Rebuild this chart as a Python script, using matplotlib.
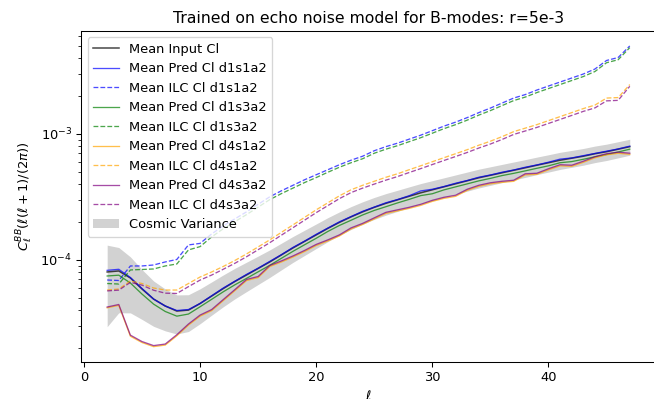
import numpy as np
import matplotlib
matplotlib.use("Agg")
import matplotlib.pyplot as plt

ell = np.arange(2, 48)

# mean spectra, in units of 1e-4
cl_input = np.array([0.803, 0.818, 0.719, 0.588, 0.489, 0.431, 0.393, 0.400, 0.451, 0.517,
                     0.593, 0.675, 0.760, 0.856, 0.964, 1.096, 1.246, 1.404, 1.581, 1.781,
                     1.988, 2.198, 2.409, 2.616, 2.815, 3.001, 3.201, 3.412, 3.605, 3.808,
                     4.023, 4.250, 4.49, 4.70, 4.92, 5.15, 5.39, 5.65, 5.91, 6.19,
                     6.42, 6.66, 6.97, 7.23, 7.57, 7.93]) * 1e-4

pred_d1s1a2 = np.array([0.827, 0.843, 0.726, 0.594, 0.489, 0.431, 0.397, 0.404, 0.451, 0.520,
                        0.599, 0.678, 0.768, 0.860, 0.974, 1.101, 1.258, 1.411, 1.597, 1.790,
                        2.008, 2.209, 2.433, 2.629, 2.843, 3.016, 3.233, 3.531, 3.641, 3.827,
                        4.063, 4.271, 4.535, 4.724, 4.969, 5.176, 5.444, 5.678, 5.969, 6.314,
                        6.452, 6.727, 7.005, 7.302, 7.608, 8.009]) * 1e-4

ilc_d1s1a2 = np.array([0.693, 0.687, 0.896, 0.896, 0.912, 0.964, 1.009, 1.316, 1.353, 1.610,
                       1.864, 2.120, 2.409, 2.764, 3.171, 3.538, 3.914, 4.33, 4.745, 5.20,
                       5.70, 6.19, 6.66, 7.36, 7.93, 8.45, 9.09, 9.78, 10.62, 11.54,
                       12.41, 13.48, 14.77, 16.05, 17.58, 19.27, 20.54, 22.31, 24.01, 25.83,
                       27.80, 29.91, 32.77, 38.30, 40.45, 49.95]) * 1e-4

pred_d1s3a2 = np.array([0.746, 0.757, 0.656, 0.536, 0.446, 0.390, 0.358, 0.372, 0.425, 0.487,
                        0.559, 0.635, 0.714, 0.805, 0.906, 1.030, 1.171, 1.320, 1.486, 1.683,
                        1.879, 2.066, 2.277, 2.472, 2.646, 2.836, 3.025, 3.241, 3.353, 3.599,
                        3.802, 4.016, 4.243, 4.442, 4.674, 4.867, 5.094, 5.339, 5.585, 5.911,
                        6.035, 6.294, 6.587, 6.869, 7.192, 7.573]) * 1e-4

ilc_d1s3a2 = np.array([0.650, 0.644, 0.833, 0.840, 0.848, 0.896, 0.929, 1.201, 1.276, 1.524,
                       1.771, 2.014, 2.289, 2.626, 3.012, 3.361, 3.718, 4.114, 4.508, 4.966,
                       5.444, 5.911, 6.360, 7.029, 7.573, 8.070, 8.681, 9.340, 10.14, 11.02,
                       11.85, 12.87, 14.11, 15.33, 16.79, 18.40, 19.62, 21.31, 22.93, 24.67,
                       26.55, 28.56, 31.30, 36.77, 38.83, 48.45]) * 1e-4

pred_d4s3a2 = np.array([0.423, 0.443, 0.253, 0.225, 0.209, 0.215, 0.255, 0.310, 0.365, 0.404,
                        0.485, 0.582, 0.700, 0.739, 0.904, 0.982, 1.076, 1.190, 1.328, 1.443,
                        1.581, 1.797, 1.951, 2.159, 2.387, 2.499, 2.616, 2.764, 2.974, 3.143,
                        3.261, 3.638, 3.914, 4.099, 4.212, 4.290, 4.83, 4.877, 5.295, 5.70,
                        5.647, 6.075, 6.597, 6.97, 7.166, 7.036]) * 1e-4

pred_d4s1a2 = np.array([0.417, 0.436, 0.248, 0.221, 0.205, 0.211, 0.250, 0.304, 0.358, 0.396,
                        0.476, 0.571, 0.686, 0.725, 0.886, 0.963, 1.055, 1.167, 1.302, 1.415,
                        1.550, 1.762, 1.913, 2.117, 2.340, 2.450, 2.565, 2.710, 2.916, 3.081,
                        3.197, 3.567, 3.837, 4.019, 4.130, 4.206, 4.735, 4.781, 5.191, 5.588,
                        5.536, 5.956, 6.468, 6.833, 7.025, 6.898]) * 1e-4

ilc_d4s1a2 = np.array([0.577, 0.588, 0.681, 0.650, 0.599, 0.577, 0.577, 0.650, 0.732, 0.803,
                       0.888, 0.991, 1.116, 1.269, 1.443, 1.655, 1.898, 2.178, 2.499, 2.841,
                       3.229, 3.605, 3.914, 4.212, 4.53, 4.83, 5.20, 5.59, 6.02, 6.48,
                       6.97, 7.50, 8.14, 8.76, 9.52, 10.43, 11.12, 11.86, 12.76, 13.73,
                       14.77, 15.90, 16.95, 19.27, 19.45, 24.67]) * 1e-4

ilc_d4s3a2 = np.array([0.568, 0.576, 0.664, 0.631, 0.575, 0.545, 0.542, 0.614, 0.692, 0.759,
                       0.844, 0.941, 1.060, 1.206, 1.371, 1.572, 1.803, 2.069, 2.374, 2.699,
                       3.068, 3.425, 3.718, 4.001, 4.30, 4.59, 4.94, 5.31, 5.72, 6.16,
                       6.62, 7.13, 7.73, 8.32, 9.04, 9.91, 10.56, 11.27, 12.12, 13.04,
                       14.03, 15.11, 16.10, 18.31, 18.48, 23.9]) * 1e-4

# cosmic variance on the input spectrum
cv = np.sqrt(2.0 / (2 * ell + 1)) * cl_input

dpi = 94
fig = plt.figure(figsize=(654 / dpi, 399 / dpi), dpi=dpi)
ax = fig.add_axes([0.1239, 0.0935, 0.879, 0.829])

a = 0.7
ax.plot(ell, cl_input, color="black", lw=1.2, alpha=a, label="Mean Input Cl")
ax.plot(ell, pred_d1s1a2, color="blue", lw=1, alpha=a, label="Mean Pred Cl d1s1a2")
ax.plot(ell, ilc_d1s1a2, color="blue", lw=1, ls="--", alpha=a, label="Mean ILC Cl d1s1a2")
ax.plot(ell, pred_d1s3a2, color="green", lw=1, alpha=a, label="Mean Pred Cl d1s3a2")
ax.plot(ell, ilc_d1s3a2, color="green", lw=1, ls="--", alpha=a, label="Mean ILC Cl d1s3a2")
ax.plot(ell, pred_d4s1a2, color="orange", lw=1, alpha=a, label="Mean Pred Cl d4s1a2")
ax.plot(ell, ilc_d4s1a2, color="orange", lw=1, ls="--", alpha=a, label="Mean ILC Cl d4s1a2")
ax.plot(ell, pred_d4s3a2, color="purple", lw=1, alpha=a, label="Mean Pred Cl d4s3a2")
ax.plot(ell, ilc_d4s3a2, color="purple", lw=1, ls="--", alpha=a, label="Mean ILC Cl d4s3a2")
ax.fill_between(ell, cl_input - cv, cl_input + cv, color="gray", alpha=0.35,
                lw=0, label="Cosmic Variance")

ax.set_yscale("log")
ax.set_xlabel(r"$\ell$")
ax.set_ylabel(r"$C_\ell^{BB}(\ell(\ell+1)/(2\pi))$")
ax.set_title("Trained on echo noise model for B-modes: r=5e-3")
ax.legend(loc="upper left")

fig.savefig("out.png", dpi=dpi)
